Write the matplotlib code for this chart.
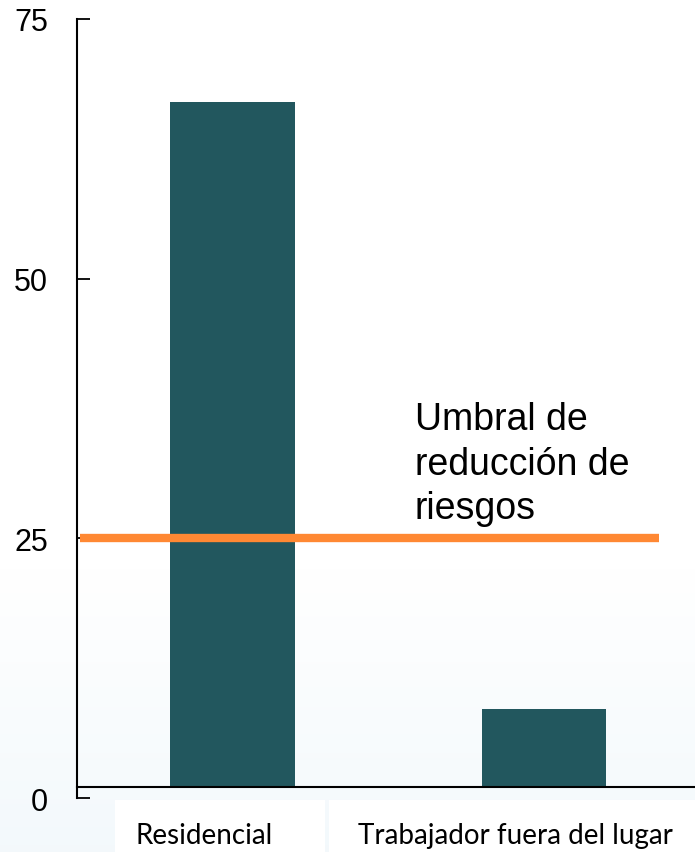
import numpy as np
import matplotlib.pyplot as plt
from matplotlib.patches import Rectangle
from matplotlib.transforms import ScaledTranslation

categories = ['Residencial', 'Trabajador fuera del lugar']
values = [67, 8.6]
threshold = 25
threshold_label = 'Umbral de\nreducción de\nriesgos'
yticks = [0, 25, 50, 75]
baseline = 1.05  # the category axis sits slightly above the 0 tick

BAR_COLOR = '#22575E'
LINE_COLOR = '#FF8833'

fig = plt.figure(figsize=(6.95, 8.53), dpi=100)

# faint bluish wash towards the bottom, white boxes behind the labels
bg = fig.add_axes([0, 0, 1, 1], zorder=-1)
rows = np.linspace(1, 0, 300)
w = np.clip((0.33 - rows) / 0.33, 0, 1)[:, None, None]
tint = np.array([0.953, 0.976, 0.988])
grad = (1 - w) * np.ones(3) + w * tint
bg.imshow(np.repeat(grad, 2, axis=1), extent=[0, 1, 0, 1], aspect='auto')
bg.add_patch(Rectangle((0.166, 0), 0.302, 0.061, color='white', lw=0))
bg.add_patch(Rectangle((0.474, 0), 0.526, 0.061, color='white', lw=0))
bg.set_xlim(0, 1)
bg.set_ylim(0, 1)
bg.axis('off')

ax = fig.add_axes([0.1108, 0.0633, 0.8892, 0.9133])
ax.set_facecolor('none')
ax.spines['top'].set_visible(False)
ax.spines['right'].set_visible(False)
ax.spines['bottom'].set_position(('data', baseline))
ax.spines['left'].set_linewidth(1.5)
ax.spines['bottom'].set_linewidth(1.5)

x = list(range(len(categories)))
ax.bar(x, [v - baseline for v in values], bottom=baseline, width=0.40,
       color=BAR_COLOR, zorder=2)
ax.plot([-0.49, 1.37], [threshold, threshold], color=LINE_COLOR,
        linewidth=6, solid_capstyle='butt', zorder=3)

ax.text(0.585, 38.2, threshold_label, fontsize=27, family='Liberation Sans',
        va='top', ha='left', linespacing=1.3)

ax.set_xlim(-0.5, 1.485)
ax.set_ylim(0, 75)
ax.set_yticks(yticks)
ax.set_yticklabels([str(v) for v in yticks], fontsize=22, family='Liberation Sans')
ax.tick_params(axis='y', direction='in', length=9, width=1.3, pad=21)

ax.set_xticks(x)
ax.set_xticklabels(categories, fontsize=20, family='Lato')
ax.tick_params(axis='x', length=0, pad=25)
shift = ScaledTranslation(-29 / 100, 0, fig.dpi_scale_trans)
for lab in ax.get_xticklabels():
    lab.set_transform(lab.get_transform() + shift)

fig.savefig('out.png', dpi=100)
